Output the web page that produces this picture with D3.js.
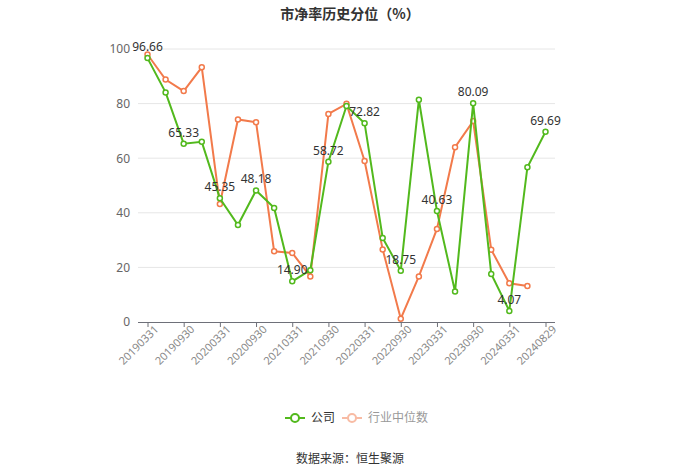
<!DOCTYPE html>
<html><head><meta charset="utf-8">
<script src="https://cdn.jsdelivr.net/npm/d3@7"></script>
<style>body{margin:0;background:#fff;}svg{display:block;font-family:"Noto Sans CJK SC","Noto Sans",sans-serif;}</style>
</head><body><svg id="c" width="700" height="474"></svg>
<script>
const dates = ["20190331","20190630","20190930","20191231","20200331","20200630","20200930","20201231","20210331","20210630","20210930","20211231","20220331","20220630","20220930","20221231","20230331","20230630","20230930","20231231","20240331","20240630","20240829"];
const companyValues = [96.66,84.1,65.33,66.0,45.35,35.5,48.18,41.8,14.90,19.0,58.72,79.1,72.82,30.8,18.75,81.4,40.63,11.2,80.09,17.6,4.07,56.7,69.69];
const industryValues = [98.0,88.8,84.6,93.3,43.2,74.2,73.2,25.9,25.3,16.7,76.2,79.9,59.0,26.6,1.2,16.7,34.1,64.0,73.6,26.5,14.2,13.2];
const yTicks = [0,20,40,60,80,100];
const seriesNames = ["公司","行业中位数"];
const colors = ["#52b91d","#f27a4b"];

const svg = d3.select("#c");
const pL=138, pR=555, pT=49, pB=322, pad=9.5;
const x = d3.scalePoint().domain(dates).range([pL+pad, pR-pad]);
const y = d3.scaleLinear().domain([0,100]).range([pB, pT]);

svg.append("text").attr("x",350).attr("y",19).attr("text-anchor","middle")
  .attr("font-size",14).attr("font-weight","bold").attr("fill","#333").text("市净率历史分位（%）");

// grid
svg.append("g").selectAll("line").data(yTicks.filter(d=>d>0)).join("line")
  .attr("x1",pL).attr("x2",pR).attr("y1",d=>y(d)).attr("y2",d=>y(d))
  .attr("stroke","#e6e6e6").attr("stroke-width",1);

// y axis labels
const yAxis = d3.axisLeft(y).tickValues(yTicks).tickSize(0).tickPadding(8);
const gy = svg.append("g").attr("transform",`translate(${pL},0)`).call(yAxis);
gy.select(".domain").remove();
gy.selectAll("text").attr("font-size",12).attr("fill","#666").attr("font-family","'Noto Sans',sans-serif");

// x axis
const labelDates = dates.filter((d,i)=>i%2===0);
const xAxis = d3.axisBottom(x).tickValues(labelDates).tickSize(5).tickSizeOuter(0);
const gx = svg.append("g").attr("transform",`translate(0,${pB})`).call(xAxis);
gx.select(".domain").attr("d",`M${pL},0.5H${pR}`).attr("stroke","#6e7079");
gx.selectAll(".tick line").attr("stroke","#6e7079");
gx.selectAll("text").attr("font-size",11).attr("fill","#888").attr("font-family","'Noto Sans',sans-serif")
  .attr("text-anchor","end").attr("dx","0.2em").attr("dy","0.5em")
  .attr("transform","rotate(-45)");

function drawSeries(vals, color){
  const line = d3.line().x((d,i)=>x(dates[i])).y(d=>y(d));
  svg.append("path").datum(vals).attr("d",line).attr("fill","none").attr("stroke",color).attr("stroke-width",2);
  svg.append("g").selectAll("circle").data(vals).join("circle")
    .attr("cx",(d,i)=>x(dates[i])).attr("cy",d=>y(d)).attr("r",2.5)
    .attr("fill","#fff").attr("stroke",color).attr("stroke-width",1.5);
}
drawSeries(industryValues, colors[1]);
drawSeries(companyValues, colors[0]);

// labels
svg.append("g").selectAll("text").data(companyValues.map((v,i)=>({v,i})).filter(d=>d.i%2===0)).join("text")
  .attr("x",d=>x(dates[d.i])).attr("y",d=>y(d.v)-7).attr("text-anchor","middle")
  .attr("font-size",12).attr("fill","#333").attr("font-family","'Noto Sans',sans-serif")
  .text(d=>d.v.toFixed(2));

// legend
const leg = [{name:seriesNames[0],color:colors[0],x:285,op:1,tc:"#333"},{name:seriesNames[1],color:colors[1],x:342,op:0.5,tc:"#999"}];
leg.forEach(l=>{
  const g = svg.append("g").attr("opacity",l.op);
  g.append("line").attr("x1",l.x).attr("x2",l.x+20).attr("y1",418).attr("y2",418).attr("stroke",l.color).attr("stroke-width",2);
  g.append("circle").attr("cx",l.x+10).attr("cy",418).attr("r",4).attr("fill","#fff").attr("stroke",l.color).attr("stroke-width",2);
  svg.append("text").attr("x",l.x+26).attr("y",422).attr("font-size",12).attr("fill",l.tc).text(l.name);
});

svg.append("text").attr("x",350).attr("y",463).attr("text-anchor","middle")
  .attr("font-size",12).attr("fill","#333").text("数据来源：恒生聚源");
</script></body></html>
